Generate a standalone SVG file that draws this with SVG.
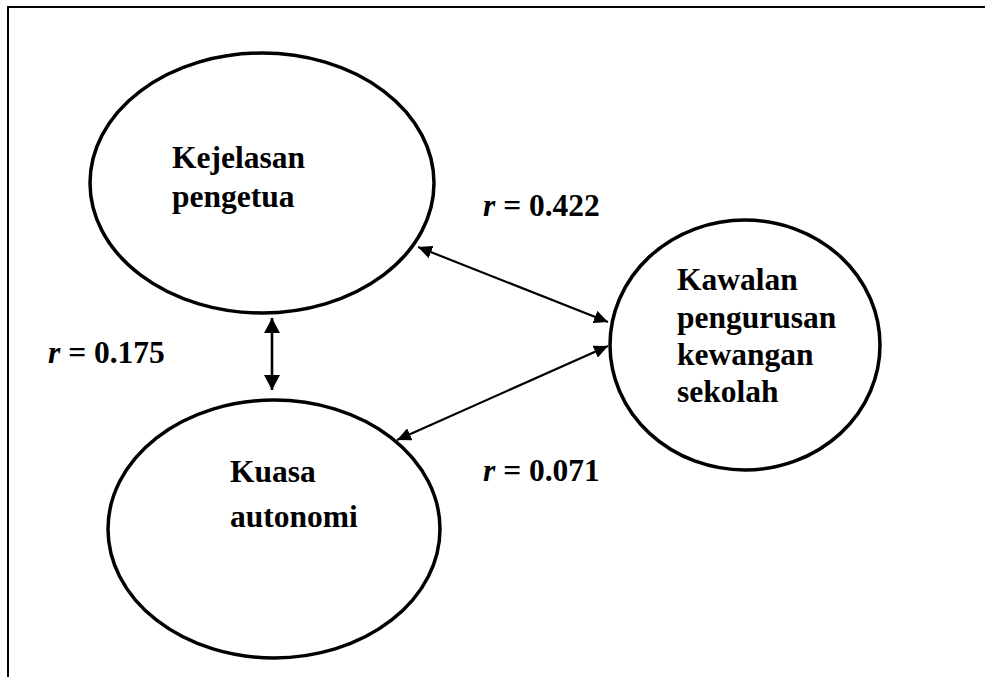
<svg xmlns="http://www.w3.org/2000/svg" width="985" height="677" viewBox="0 0 985 677">
<defs>
<marker id="ah" viewBox="0 0 10 10" refX="10" refY="5" markerWidth="14" markerHeight="13" markerUnits="userSpaceOnUse" orient="auto-start-reverse" preserveAspectRatio="none">
<path d="M0,0 L10,5 L0,10 z" fill="#000"/>
</marker>
<marker id="ahv" viewBox="0 0 10 10" refX="10" refY="5" markerWidth="15" markerHeight="16" markerUnits="userSpaceOnUse" orient="auto-start-reverse" preserveAspectRatio="none">
<path d="M0,0 L10,5 L0,10 z" fill="#000"/>
</marker>
<style>
.node{fill:#fff;stroke:#000;stroke-width:3.5}
.lbl{font-family:"Liberation Serif","Times New Roman",serif;font-weight:bold;font-size:31.5px;fill:#000}
.conn{stroke:#000;stroke-width:2.2;fill:none;marker-start:url(#ah);marker-end:url(#ah)}
.connv{stroke:#000;stroke-width:2.6;fill:none;marker-start:url(#ahv);marker-end:url(#ahv)}
</style>
</defs>
<rect width="985" height="677" fill="#fff"/>
<path d="M8,677 V7 H985" fill="none" stroke="#000" stroke-width="2"/>
<g id="kejelasan">
<ellipse class="node" cx="262" cy="183" rx="172" ry="130"/>
<text class="lbl" x="172" y="168">Kejelasan</text>
<text class="lbl" x="172" y="207">pengetua</text>
</g>
<g id="kuasa">
<ellipse class="node" cx="274" cy="529" rx="166" ry="129"/>
<text class="lbl" x="230" y="482">Kuasa</text>
<text class="lbl" x="230" y="527">autonomi</text>
</g>
<g id="kawalan">
<ellipse class="node" cx="745" cy="345" rx="135" ry="125"/>
<text class="lbl" x="677" y="290">Kawalan</text>
<text class="lbl" x="677" y="328">pengurusan</text>
<text class="lbl" x="677" y="365">kewangan</text>
<text class="lbl" x="677" y="402">sekolah</text>
</g>
<g id="connectors">
<line class="connv" x1="272" y1="318" x2="272" y2="390"/>
<line class="conn" x1="418" y1="247" x2="608" y2="322"/>
<line class="conn" x1="608" y1="346" x2="397" y2="440"/>
</g>
<g id="labels">
<text class="lbl" x="48" y="363"><tspan font-style="italic">r</tspan> = 0.175</text>
<text class="lbl" x="483" y="216"><tspan font-style="italic">r</tspan> = 0.422</text>
<text class="lbl" x="483" y="481"><tspan font-style="italic">r</tspan> = 0.071</text>
</g>
</svg>
